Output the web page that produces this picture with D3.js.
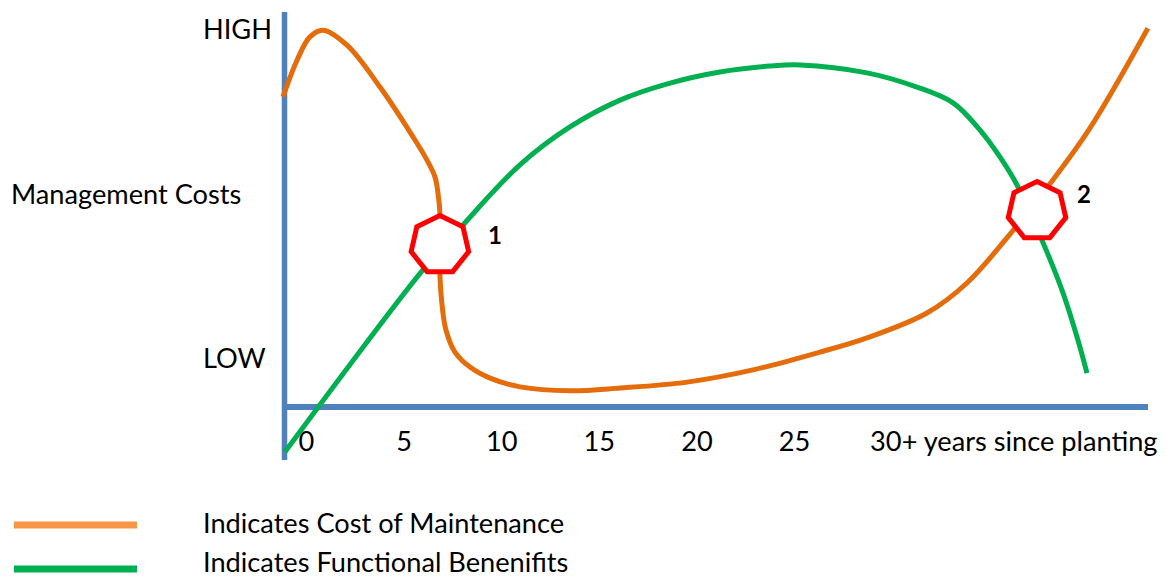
<!DOCTYPE html>
<html><head><meta charset="utf-8">
<script src="https://cdn.jsdelivr.net/npm/d3@7"></script>
<style>
body{margin:0;background:#fff}
text{font-family:Lato,"Noto Sans",sans-serif;fill:#000}
</style>
</head><body>
<svg id="c" width="1167" height="579"></svg>
<script>
// ---- data ----
const tickYears = [0, 5, 10, 15, 20, 25, 30];
const tickLabels = ["0", "5", "10", "15", "20", "25", "30+ years since planting"];
const levelValues = [95.7, 12.2];
const levelLabels = ["HIGH", "LOW"];
const yAxisTitle = "Management Costs";

const costYears  = [-1.18, -0.46, 0.20, 0.87, 2.10, 3.79, 5.48, 6.20, 6.61, 6.76, 6.86, 6.86, 6.86, 6.97, 7.17, 7.63, 8.40, 9.43, 10.96, 13.52, 16.09, 19.52, 22.90, 26.33, 28.74, 31.81, 33.86, 36.12, 38.11, 40.16, 43.13];
const costValues = [78.5, 87.8, 93.7, 95.4, 91.6, 81.0, 68.4, 62.5, 58.2, 54.2, 49.1, 41.0, 33.4, 25.8, 19.5, 13.9, 10.1, 7.3, 5.1, 4.1, 4.8, 6.3, 9.4, 13.9, 17.5, 23.8, 31.4, 44.1, 56.5, 70.6, 95.9];

const benefitYears  = [-1.08, 2.25, 5.99, 7.99, 10.96, 13.52, 16.09, 18.65, 21.21, 23.77, 25.31, 28.74, 31.30, 33.15, 34.53, 35.55, 36.48, 37.70, 38.78, 39.50, 40.01];
const benefitValues = [-11.4, 10.7, 34.7, 45.8, 61.3, 70.9, 77.7, 82.0, 84.8, 86.3, 86.6, 84.6, 81.0, 77.0, 70.1, 63.3, 55.7, 42.3, 28.9, 17.7, 8.6];

const crossingYears  = [6.86, 37.45];
const crossingValues = [41.0, 49.6];
const crossingLabels = ["1", "2"];

const legendLabels = ["Indicates Cost of Maintenance", "Indicates Functional Benenifits"];

// ---- styles / layout ----
const colors = {axis:"#4F81BD", cost:"#E46C0A", costLegend:"#F79646", benefit:"#00B050", marker:"#FF0000"};
const crossingLabelOffsets = [[55, -9], [47, -16]];
const fontSize = 27.2;

const svg = d3.select("#c");
const x = d3.scaleLinear().domain([0, 25]).range([306, 794]);
const y = d3.scaleLinear().domain([0, 100]).range([407, 12]);
const axisLeftX = 284.5, axisRight = 1148, axisBottomY = y(0), axisTopY = 12, axisLowY = 460;

const line = d3.line().x(d => x(d[0])).y(d => y(d[1])).curve(d3.curveCatmullRom.alpha(0.5));

// axes (drawn as thick lines like the original)
svg.append("line").attr("x1", axisLeftX).attr("x2", axisLeftX).attr("y1", axisTopY).attr("y2", axisLowY)
  .attr("stroke", colors.axis).attr("stroke-width", 5.5);
svg.append("line").attr("x1", axisLeftX).attr("x2", axisRight).attr("y1", axisBottomY).attr("y2", axisBottomY)
  .attr("stroke", colors.axis).attr("stroke-width", 6);

// x tick labels via d3 axis
const xAxis = d3.axisBottom(x).tickValues(tickYears).tickFormat((d, i) => tickLabels[i]).tickSize(0).tickPadding(0);
const gx = svg.append("g").attr("transform", `translate(0,${axisBottomY})`).call(xAxis);
gx.select(".domain").remove();
gx.selectAll("text").attr("dy", null).attr("y", 44).style("font-size", fontSize + "px")
  .style("font-family", "Lato").attr("fill", "#000");
gx.selectAll(".tick").filter(d => d === 30).select("text").attr("text-anchor", "start").attr("x", -22);

// y level labels
svg.selectAll("text.level").data(levelValues).join("text").attr("class", "level")
  .attr("x", 203).attr("y", d => y(d)).attr("dy", "0.35em")
  .style("font-size", fontSize + "px").text((d, i) => levelLabels[i]);
svg.append("text").attr("x", 11).attr("y", 204).style("font-size", fontSize + "px").text(yAxisTitle);

// curves
const costPts = costYears.map((d, i) => [d, costValues[i]]);
const benefitPts = benefitYears.map((d, i) => [d, benefitValues[i]]);
svg.append("path").attr("d", line(costPts)).attr("fill", "none").attr("stroke", colors.cost).attr("stroke-width", 5);
svg.append("path").attr("d", line(benefitPts)).attr("fill", "none").attr("stroke", colors.benefit).attr("stroke-width", 5);

// crossing markers (heptagons)
const R = 29.5;
const hept = d3.range(7).map(i => {
  const a = -Math.PI / 2 + i * 2 * Math.PI / 7;
  return [R * Math.cos(a), R * Math.sin(a)];
});
const hline = d3.line().curve(d3.curveLinearClosed);
crossingYears.forEach((yr, i) => {
  const cx = x(yr), cy = y(crossingValues[i]);
  svg.append("path").attr("transform", `translate(${cx},${cy})`).attr("d", hline(hept))
    .attr("fill", "#fff").attr("stroke", colors.marker).attr("stroke-width", 5).attr("stroke-linejoin", "miter");
  svg.append("text").attr("x", cx + crossingLabelOffsets[i][0]).attr("y", cy + crossingLabelOffsets[i][1])
    .attr("text-anchor", "middle").attr("dy", "0.35em")
    .style("font-size", "24px").style("font-weight", "bold").text(crossingLabels[i]);
});

// legend
const legendColors = [colors.costLegend, colors.benefit];
const legendY = [525, 569];
const legendTextY = [533, 572];
legendLabels.forEach((lab, i) => {
  svg.append("line").attr("x1", 14).attr("x2", 137).attr("y1", legendY[i]).attr("y2", legendY[i])
    .attr("stroke", legendColors[i]).attr("stroke-width", 7);
  svg.append("text").attr("x", 203).attr("y", legendTextY[i]).style("font-size", fontSize + "px").text(lab);
});
</script>
</body></html>
